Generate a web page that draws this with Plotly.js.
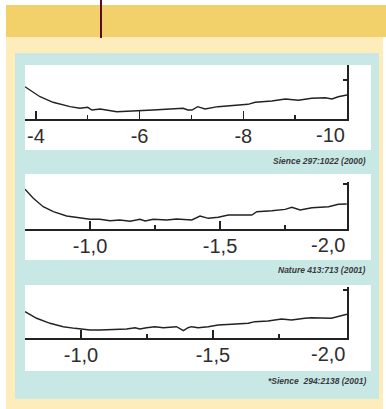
<!DOCTYPE html>
<html>
<head>
<meta charset="utf-8">
<script src="https://cdn.plot.ly/plotly-3.0.1.min.js"></script>
<style>html,body{margin:0;padding:0;background:#fff}#chart{width:386px;height:409px}</style>
</head>
<body>
<div id="chart"></div>
<script>
// ---- data ----
var p1x = [-3.79,-4.08,-4.33,-4.66,-4.85,-5.00,-5.08,-5.24,-5.56,-5.94,-6.26,-6.59,-6.84,-6.93,-7.01,-7.12,-7.26,-7.51,-7.84,-8.09,-8.23,-8.55,-8.81,-9.06,-9.32,-9.58,-9.71,-9.83,-10.0];
var p1y = [5.94,4.07,3.03,2.21,1.91,2.09,1.59,1.78,1.27,1.40,1.59,1.78,1.91,1.59,1.59,2.21,1.78,2.21,2.52,2.65,3.03,3.27,3.64,3.40,3.78,3.89,3.64,4.07,4.39];
var p2x = [-0.75,-0.782,-0.82,-0.859,-0.91,-0.962,-1.0,-1.038,-1.077,-1.115,-1.154,-1.192,-1.212,-1.243,-1.295,-1.333,-1.372,-1.391,-1.423,-1.455,-1.493,-1.532,-1.622,-1.641,-1.699,-1.75,-1.776,-1.808,-1.853,-1.917,-1.955,-1.987];
var p2y = [9.03,7.0,5.1,3.97,3.0,2.48,2.26,2.26,1.94,2.1,1.81,2.26,1.87,2.26,2.1,2.33,2.26,2.1,3.0,2.48,2.71,3.23,3.23,3.97,4.2,4.51,4.97,4.36,4.88,5.1,5.64,5.71];
var p3x = [-0.788,-0.832,-0.883,-0.933,-0.977,-1.003,-1.034,-1.072,-1.122,-1.173,-1.205,-1.223,-1.249,-1.28,-1.312,-1.362,-1.388,-1.406,-1.419,-1.444,-1.482,-1.52,-1.571,-1.634,-1.659,-1.709,-1.76,-1.798,-1.848,-1.874,-1.949,-1.987,-2.008];
var p3y = [5.13,3.83,2.84,2.17,1.85,1.72,1.52,1.52,1.66,1.72,1.97,1.72,1.97,2.17,1.97,2.17,1.4,1.97,2.17,1.97,2.17,2.5,2.64,2.84,3.16,3.29,3.69,3.49,3.83,3.94,3.83,4.34,4.62];

var tick1 = [-4,-6,-8], tick1Text = ["-4","-6","-8"], minor1 = [-5,-7,-9], last1 = {x:-10, t:"-10"};
var tick2 = [-1.0,-1.5], tick2Text = ["-1,0","-1,5"], minor2 = [-1.25,-1.75], last2 = {x:-1.988, t:"-2,0"};
var tick3 = [-1.0,-1.5], tick3Text = ["-1,0","-1,5"], minor3 = [-1.25,-1.75], last3 = {x:-2.008, t:"-2,0"};
var cites = ["Sience 297:1022 (2000)", "Nature 413:713 (2001)", "*Sience&nbsp; 294:2138 (2001)"];

// ---- layout helpers (pixel -> paper) ----
var W = 386, H = 409;
function px(x){return x/W;}
function py(y){return 1 - y/H;}
var FONT = "Liberation Sans, Arial, sans-serif";
var INK = "#222";
var LABEL = {family:FONT, size:20, color:"#2e2e2e"};

var panels = [
  {top:65, axis:118.5, ymax:10, rtick:7.2, xr:[-3.79,-10.0], tv:tick1, tt:tick1Text, mv:minor1, last:last1, lab:135, cite:161},
  {top:182, axis:229.3, ymax:10.68, rtick:10.2, xr:[-0.75,-1.988], tv:tick2, tt:tick2Text, mv:minor2, last:last2, lab:245, cite:270},
  {top:287, axis:337.7, ymax:10, rtick:9.4, xr:[-0.788,-2.008], tv:tick3, tt:tick3Text, mv:minor3, last:last3, lab:354, cite:381}
];
var xs = [p1x,p2x,p3x], ys = [p1y,p2y,p3y];

var data = [], layout = {
  width:W, height:H, margin:{l:0,r:0,t:0,b:0},
  paper_bgcolor:"#ffffff", plot_bgcolor:"rgba(0,0,0,0)",
  showlegend:false, shapes:[], annotations:[]
};

layout.shapes.push(
  {type:"rect", xref:"paper", yref:"paper", x0:px(6), x1:px(386), y0:py(37), y1:py(5), fillcolor:"#F2D16B", line:{width:0}, layer:"below"},
  {type:"rect", xref:"paper", yref:"paper", x0:px(6), x1:px(383), y0:py(409), y1:py(37), fillcolor:"#FEECBA", line:{width:0}, layer:"below"},
  {type:"rect", xref:"paper", yref:"paper", x0:px(15), x1:px(379), y0:py(399), y1:py(53), fillcolor:"#C8E8E6", line:{width:0}, layer:"below"},
  {type:"rect", xref:"paper", yref:"paper", x0:px(25), x1:px(371), y0:py(150), y1:py(65), fillcolor:"#ffffff", line:{width:0}, layer:"below"},
  {type:"rect", xref:"paper", yref:"paper", x0:px(25), x1:px(371), y0:py(260), y1:py(174), fillcolor:"#ffffff", line:{width:0}, layer:"below"},
  {type:"rect", xref:"paper", yref:"paper", x0:px(25), x1:px(371), y0:py(371), y1:py(285), fillcolor:"#ffffff", line:{width:0}, layer:"below"},
  {type:"rect", xref:"paper", yref:"paper", x0:px(100), x1:px(102), y0:py(38), y1:py(0), fillcolor:"#5C0A2A", line:{width:0}, layer:"above"}
);

panels.forEach(function(p, i){
  var n = i===0 ? "" : String(i+1);
  data.push({x:xs[i], y:ys[i], xaxis:"x"+n, yaxis:"y"+n, type:"scatter", mode:"lines",
    line:{color:INK, width:1.4}, hoverinfo:"skip"});
  layout["xaxis"+n] = {
    domain:[px(25), px(347)], anchor:"y"+n, range:p.xr,
    showline:true, linecolor:INK, linewidth:2, showgrid:false, zeroline:false,
    ticks:"inside", ticklen:8, tickwidth:1.5, tickcolor:INK,
    tickmode:"array", tickvals:p.tv, ticktext:p.tt, ticklabelstandoff:-2,
    tickfont:LABEL,
    minor:{tickmode:"array", tickvals:p.mv, ticks:"inside", ticklen:4, tickwidth:1.5, tickcolor:INK, showgrid:false},
    fixedrange:true
  };
  layout["yaxis"+n] = {
    domain:[py(p.axis), py(p.top)], anchor:"x"+n, side:"right", range:[0, p.ymax],
    showline:true, linecolor:INK, linewidth:2, showgrid:false, zeroline:false,
    ticks:"inside", ticklen:4, tickwidth:1.5, tickcolor:INK,
    tickmode:"array", tickvals:[p.rtick], showticklabels:false, fixedrange:true
  };
  layout.annotations.push({
    xref:"x"+n, yref:"paper", x:p.last.x, y:py(p.lab), xanchor:"right", yanchor:"middle",
    text:p.last.t, showarrow:false, font:LABEL
  });
  layout.annotations.push({
    xref:"paper", yref:"paper", x:px(368), y:py(p.cite), xanchor:"right", yanchor:"middle",
    text:"<b><i>"+cites[i]+"</i></b>", showarrow:false, font:{family:FONT, size:8.5, color:"#3a3a3a"}
  });
});

Plotly.newPlot("chart", data, layout, {staticPlot:true, displayModeBar:false});
</script>
</body>
</html>
